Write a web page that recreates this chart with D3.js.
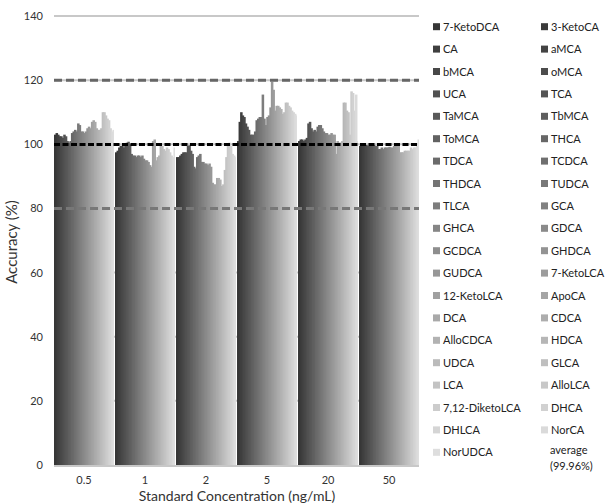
<!DOCTYPE html>
<html><head><meta charset="utf-8">
<script src="https://cdn.jsdelivr.net/npm/d3@7/dist/d3.min.js"></script>
<style>body{margin:0;background:#fff;} svg{display:block;font-family:Lato,"Open Sans",sans-serif;}</style>
</head><body><svg id="c" width="606" height="503"></svg>
<script>
const categories = ["0.5","1","2","5","20","50"];
const series = ["7-KetoDCA","3-KetoCA","CA","aMCA","bMCA","oMCA","UCA","TCA","TaMCA","TbMCA","ToMCA","THCA","TDCA","TCDCA","THDCA","TUDCA","TLCA","GCA","GHCA","GDCA","GCDCA","GHDCA","GUDCA","7-KetoLCA","12-KetoLCA","ApoCA","DCA","CDCA","AlloCDCA","HDCA","UDCA","GLCA","LCA","AlloLCA","7,12-DiketoLCA","DHCA","DHLCA","NorCA","NorUDCA"];
// values per concentration, in series order
const v05 = [103,103.5,103,102.5,102.5,102,103,102.5,101,100.5,101,103.5,104,104.5,104,106.5,106,104,104,103.5,104,105,105.5,105,107,107.5,107,105,104.5,104.5,105,110,110,109,108,107.5,105,104,104.5];
const v1 = [97.5,98,99,99.5,99.5,99,99.5,100.5,100.8,100,97,96.5,96.5,96,96.5,96.5,96,96.5,95.5,95,95,94.5,93.5,93,101,101.5,95,96,96.5,100,99.5,98.5,98,99,98.5,97.5,96.5,96,99];
const v2 = [96,96,96.5,97,97.5,97.5,97.5,99.5,99.7,98,97,93,92.5,96,96.5,97,94.5,94.5,94,94,93.5,94,93,88,87.5,87.5,89.5,89.5,89,87,87.5,92,96,100,100.5,99.5,97,96.5,96];
const v5 = [101,107,110,109,108.5,106.5,105.5,104.5,103,103,103,104,107.5,108,108.5,108.5,115.5,108,106,108.5,109,111.5,119.5,117,110.5,112,112,111.5,111,109.5,110,113,113,112,111.5,110.5,110,109.5,109];
const v20 = [101,101.5,101.5,101,101.5,102,106.5,107,105,104,104.5,104,105.5,106,106,105,104,103.5,103.5,103,103,103.5,103,103,97,101,100.5,100.5,101,113,113,110.5,110,103,116.5,116,110.5,115.5,101];
const v50 = [99.5,99.5,100,99.5,99.8,99.5,99.6,99.5,99.5,99.8,99.5,99.5,98.5,98.5,99,98.5,99,99,99,99.2,99,99,99.5,99.5,99.5,99.8,97.5,97.5,97.5,98,98,98,98,99,98.5,99,99,99.5,101.5];
const groupValues = [v05,v1,v2,v5,v20,v50];
const averageValue = 99.96;
const limitLines = [120, 80];
const yTicks = [0,20,40,60,80,100,120,140];

const svg = d3.select("#c");
const m = {l:54};
const x0 = d3.scaleBand().domain(categories).range([m.l, 419]).paddingInner(0.017).paddingOuter(0);
const x1 = d3.scaleBand().domain(series).range([0, x0.bandwidth()]).padding(0);
const y = d3.scaleLinear().domain([0,140]).range([465, 16]);
const color = d3.scaleLinear().domain([0, series.length-1]).range(["#363636","#dedede"]).interpolate(d3.interpolateRgb);

// gridlines
svg.append("g").selectAll("line").data(yTicks.filter(d=>d>0)).join("line")
  .attr("x1", m.l).attr("x2", 419).attr("y1", d=>y(d)).attr("y2", d=>y(d))
  .attr("stroke", "#c8c8c8").attr("stroke-width", 2);

// bars
const g = svg.append("g").selectAll("g").data(categories).join("g")
  .attr("transform", d=>`translate(${x0(d)},0)`);
g.selectAll("rect").data((d,i)=>groupValues[i].map((v,j)=>({s:series[j], v, j}))).join("rect")
  .attr("x", d=>x1(d.s)).attr("width", d=> d.j === series.length-1 ? x1.bandwidth() : x1.bandwidth()+1)
  .attr("y", d=>y(d.v)).attr("height", d=>y(0)-y(d.v))
  .attr("fill", d=>color(d.j));

// baseline
svg.append("line").attr("x1", m.l).attr("x2", 419).attr("y1", y(0)+1).attr("y2", y(0)+1)
  .attr("stroke", "#c8c8c8").attr("stroke-width", 2);

// limit lines
svg.append("line").attr("x1", m.l).attr("x2", 419).attr("y1", y(limitLines[0])).attr("y2", y(limitLines[0]))
  .attr("stroke", "#666").attr("stroke-width", 3).attr("stroke-dasharray", "8,4");
svg.append("line").attr("x1", m.l).attr("x2", 419).attr("y1", y(limitLines[1])).attr("y2", y(limitLines[1]))
  .attr("stroke", "#777").attr("stroke-width", 3).attr("stroke-dasharray", "8,4");
// average line
svg.append("line").attr("x1", m.l).attr("x2", 419).attr("y1", y(averageValue)).attr("y2", y(averageValue))
  .attr("stroke", "#000").attr("stroke-width", 3).attr("stroke-dasharray", "6,2.5");

// y axis
const ya = svg.append("g").attr("transform", `translate(${m.l},0)`)
  .call(d3.axisLeft(y).tickValues(yTicks).tickSize(0).tickPadding(11));
ya.select(".domain").remove();
ya.selectAll("text").attr("font-size", 11).attr("fill", "#333").attr("font-family", "Lato, sans-serif");

// x axis labels
const xa = svg.append("g").attr("transform", `translate(0,${y(0)})`)
  .call(d3.axisBottom(x0).tickSize(0).tickPadding(11));
xa.select(".domain").remove();
xa.selectAll("text").attr("font-size", 11).attr("fill", "#333").attr("font-family", "Lato, sans-serif");

// titles
svg.append("text").attr("x", 237).attr("y", 501).attr("text-anchor","middle")
  .attr("font-size", 14).attr("fill","#333").text("Standard Concentration (ng/mL)");
svg.append("text").attr("transform","translate(17,242) rotate(-90)").attr("text-anchor","middle")
  .attr("font-size", 15).attr("fill","#333").text("Accuracy (%)");

// legend
const leg = svg.append("g");
const rowH = 22.4, top0 = 26.7;
const colX = [433, 541];
const items = series.map((s,i)=>({s, i}));
const li = leg.selectAll("g").data(items).join("g")
  .attr("transform", d=>`translate(${colX[d.i%2]},${top0 + Math.floor(d.i/2)*rowH})`);
li.append("rect").attr("x",0).attr("y",-3.5).attr("width",7).attr("height",7).attr("fill", d=>color(d.i));
li.append("text").attr("x",10).attr("y",4).attr("font-size",11).attr("fill","#222").text(d=>d.s);
const avg = leg.append("text").attr("x", 550).attr("y", 454).attr("font-size", 11).attr("fill","#222");
avg.append("tspan").attr("x",550).text("average");
avg.append("tspan").attr("x",550).attr("dy",15.5).text(`(${averageValue.toFixed(2)}%)`);
</script></body></html>
